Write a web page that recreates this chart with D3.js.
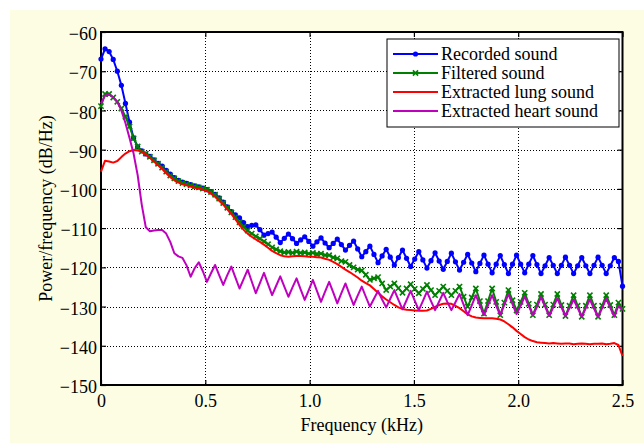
<!doctype html>
<html>
<head>
<meta charset="utf-8">
<script src="https://d3js.org/d3.v7.min.js"></script>
<style>
  body { margin: 0; background: #fff; }
  svg text { font-family: "Liberation Serif", "Times New Roman", Times, "DejaVu Serif", serif !important; fill: #000; }
</style>
</head>
<body>
<svg width="644" height="443"></svg>
<script>

// frequency bins (kHz), 129 bins from 0 to 2.5
var nBins = 129;
var freqs = d3.range(nBins).map(function(i) { return i * 2.5 / (nBins - 1); });

var recorded = [
  -66.9, -64.3, -65.0, -67.0, -70.0, -73.6, -78.2, -83.0, -87.0, -89.3,
  -90.3, -91.1, -91.7, -92.6, -93.5, -94.2, -95.3, -96.2, -97.1, -97.8,
  -98.3, -98.6, -98.9, -99.2, -99.5, -99.8, -100.2, -100.7, -101.4, -102.3,
  -103.4, -104.6, -105.8, -106.6, -107.4, -108.6, -109.6, -109.3, -109.2, -110.4,
  -111.8, -111.4, -111.0, -112.3, -113.7, -112.6, -111.5, -112.7, -113.9, -113.0,
  -112.2, -113.4, -114.6, -113.5, -112.5, -113.8, -115.0, -113.9, -112.8, -114.2,
  -115.6, -114.4, -113.3, -115.3, -117.3, -116.0, -114.6, -116.7, -118.8, -117.1,
  -115.4, -117.4, -119.4, -117.5, -115.6, -117.7, -119.8, -117.9, -116.0, -118.1,
  -120.2, -118.3, -116.3, -118.4, -120.5, -118.5, -116.4, -118.6, -120.7, -118.7,
  -116.7, -118.9, -121.1, -119.0, -116.9, -119.2, -121.4, -119.2, -117.0, -119.3,
  -121.6, -119.2, -116.9, -119.2, -121.4, -119.2, -117.0, -119.3, -121.6, -119.6,
  -117.5, -119.5, -121.6, -119.5, -117.4, -119.5, -121.6, -119.6, -117.5, -119.6,
  -121.6, -119.5, -117.4, -119.5, -121.6, -119.6, -117.5, -118.5, -124.8
];

var filtered = [
  -78.9, -75.8, -75.8, -76.7, -77.8, -79.5, -81.6, -84.1, -87.1, -89.2,
  -90.5, -91.0, -91.8, -92.7, -93.6, -94.6, -95.6, -96.6, -97.3, -98.0,
  -98.5, -98.8, -99.1, -99.4, -99.6, -99.9, -100.2, -100.8, -101.5, -102.5,
  -103.6, -104.8, -106.0, -107.2, -108.5, -109.6, -110.6, -111.4, -112.1, -112.7,
  -113.4, -114.1, -114.9, -115.4, -115.9, -116.2, -116.1, -116.3, -116.0, -116.3,
  -116.2, -116.5, -116.3, -116.6, -116.5, -116.9, -116.9, -117.5, -117.7, -118.4,
  -118.6, -119.4, -120.0, -120.6, -120.8, -121.9, -123.2, -122.8, -122.5, -124.1,
  -125.8, -124.9, -124.1, -125.3, -126.5, -125.4, -124.3, -125.5, -126.6, -125.5,
  -124.5, -125.8, -127.1, -126.0, -124.9, -126.0, -127.1, -126.0, -124.9, -127.5,
  -130.0, -127.7, -125.4, -128.6, -131.8, -128.6, -125.4, -128.8, -132.2, -129.0,
  -125.8, -128.4, -131.0, -128.8, -126.5, -129.3, -132.2, -129.5, -126.8, -129.5,
  -132.2, -129.5, -126.8, -129.6, -132.4, -129.8, -127.1, -129.8, -132.6, -129.8,
  -127.1, -129.8, -132.6, -129.8, -127.1, -129.6, -132.2, -129.0, -130.6
];

var lung = [
  -95.6, -92.8, -93.0, -93.3, -92.9, -91.9, -91.0, -90.4, -90.1, -90.2,
  -90.5, -91.2, -92.1, -93.0, -94.0, -94.9, -96.0, -97.0, -97.8, -98.4,
  -98.8, -99.1, -99.4, -99.7, -99.9, -100.2, -100.5, -101.2, -102.0, -103.0,
  -104.0, -105.2, -106.4, -107.8, -109.2, -110.4, -111.4, -112.2, -112.9, -113.5,
  -114.2, -115.0, -115.8, -116.4, -116.9, -117.2, -117.3, -117.2, -117.1, -117.1,
  -117.2, -117.3, -117.3, -117.4, -117.5, -117.8, -118.1, -118.6, -119.2, -119.9,
  -120.6, -121.2, -121.9, -122.6, -123.4, -124.0, -124.6, -125.5, -126.5, -127.4,
  -128.2, -128.9, -129.6, -130.2, -130.6, -130.8, -130.9, -131.0, -131.1, -131.1,
  -131.0, -130.6, -130.1, -129.6, -129.3, -129.2, -129.3, -129.8, -130.4, -131.2,
  -132.0, -132.5, -132.8, -132.9, -133.0, -133.0, -133.0, -133.1, -133.3, -133.8,
  -134.5, -135.3, -136.2, -137.0, -137.8, -138.4, -138.8, -139.1, -139.2, -139.3,
  -139.4, -139.3, -139.4, -139.5, -139.4, -139.4, -139.6, -139.5, -139.4, -139.5,
  -139.6, -139.5, -139.5, -139.4, -139.6, -139.5, -139.3, -139.8, -142.6
];

var heart = [
  -78.2, -76.2, -76.0, -76.6, -77.8, -80.0, -83.2, -87.0, -91.0, -96.5,
  -104.0, -109.8, -110.8, -110.6, -110.5, -110.5, -111.4, -113.5, -116.4, -117.2,
  -117.6, -119.5, -122.4, -120.2, -118.7, -121.0, -123.7, -121.5, -119.4, -122.0,
  -124.5, -122.0, -119.8, -122.6, -125.4, -123.0, -120.6, -123.6, -126.6, -124.0,
  -121.4, -124.3, -127.1, -124.7, -122.3, -124.9, -127.5, -125.1, -122.8, -125.6,
  -128.3, -125.8, -123.2, -126.0, -128.8, -126.2, -123.7, -126.4, -129.2, -126.6,
  -124.1, -126.9, -129.6, -127.2, -124.9, -127.5, -130.0, -128.0, -126.0, -128.2,
  -130.2, -128.0, -125.8, -128.3, -130.7, -128.4, -126.0, -128.5, -130.9, -128.6,
  -126.2, -128.6, -130.9, -128.7, -126.5, -128.8, -130.9, -128.9, -126.8, -129.5,
  -132.2, -129.7, -127.1, -129.7, -132.2, -129.7, -127.1, -129.8, -132.2, -129.5,
  -126.8, -129.4, -131.9, -129.8, -127.4, -129.9, -132.2, -130.1, -127.6, -130.0,
  -132.4, -130.2, -127.9, -130.2, -132.4, -130.4, -128.2, -130.4, -132.6, -130.4,
  -128.2, -130.5, -132.7, -130.4, -128.0, -130.3, -132.6, -129.8, -131.0
];

var xTicks = [0, 0.5, 1.0, 1.5, 2.0, 2.5];
var xTickLabels = ["0", "0.5", "1.0", "1.5", "2.0", "2.5"];
var yTicks = [-150, -140, -130, -120, -110, -100, -90, -80, -70, -60];

var seriesNames = ["Recorded sound", "Filtered sound", "Extracted lung sound", "Extracted heart sound"];
var seriesColors = ["#0000ff", "#008000", "#ff0000", "#bf00bf"];
var seriesMarkers = ["dot", "x", null, null];

var serif = "'Liberation Serif', 'Times New Roman', Times, 'DejaVu Serif', serif";

var svg = d3.select("svg");

// figure background
svg.append("rect")
   .attr("x", 10).attr("y", 10)
   .attr("width", 634).attr("height", 433)
   .attr("fill", "#fdfde4");

var pLeft = 101, pRight = 622.5, pTop = 32, pBottom = 385;

var x = d3.scaleLinear().domain([0, 2.5]).range([pLeft, pRight]);
var y = d3.scaleLinear().domain([-150, -60]).range([pBottom, pTop]);

svg.append("rect")
   .attr("x", pLeft).attr("y", pTop)
   .attr("width", pRight - pLeft).attr("height", pBottom - pTop)
   .attr("fill", "#fff");

// dotted grid
var grid = svg.append("g").attr("stroke", "#000").attr("stroke-width", 1).attr("stroke-dasharray", "1,2");
grid.selectAll(".gx").data(xTicks.slice(1, -1)).enter().append("line")
    .attr("x1", function(d) { return Math.round(x(d)) + 0.5; })
    .attr("x2", function(d) { return Math.round(x(d)) + 0.5; })
    .attr("y1", pTop).attr("y2", pBottom);
grid.selectAll(".gy").data(yTicks.slice(1, -1)).enter().append("line")
    .attr("y1", function(d) { return Math.round(y(d)) + 0.5; })
    .attr("y2", function(d) { return Math.round(y(d)) + 0.5; })
    .attr("x1", pLeft).attr("x2", pRight);

// axes (ticks inside, all four sides)
var minus = function(d) { return d < 0 ? "\u2212" + Math.abs(d) : String(d); };

var gx = svg.append("g").attr("transform", "translate(0," + pBottom + ")")
    .call(d3.axisBottom(x).tickValues(xTicks).tickSize(-5).tickSizeOuter(0).tickPadding(9)
          .tickFormat(function(d, i) { return xTickLabels[i]; }));
var gy = svg.append("g").attr("transform", "translate(" + pLeft + ",0)")
    .call(d3.axisLeft(y).tickValues(yTicks).tickSize(-5).tickSizeOuter(0).tickPadding(4)
          .tickFormat(minus));
var gt = svg.append("g").attr("transform", "translate(0," + pTop + ")")
    .call(d3.axisTop(x).tickValues(xTicks).tickSize(-5).tickSizeOuter(0).tickFormat(""));
var gr = svg.append("g").attr("transform", "translate(" + pRight + ",0)")
    .call(d3.axisRight(y).tickValues(yTicks).tickSize(-5).tickSizeOuter(0).tickFormat(""));

[gx, gy, gt, gr].forEach(function(g) {
    g.attr("font-family", serif).attr("font-size", 18);
    g.select(".domain").remove();
    g.selectAll(".tick line").attr("stroke", "#000").attr("stroke-width", 1.2);
    g.selectAll(".tick text").attr("font-size", 18).attr("font-family", serif);
});
gy.selectAll(".tick text").attr("dy", "0.42em");

svg.append("rect")
   .attr("x", pLeft).attr("y", pTop)
   .attr("width", pRight - pLeft).attr("height", pBottom - pTop)
   .attr("fill", "none").attr("stroke", "#000").attr("stroke-width", 2);

// axis titles
svg.append("text")
   .attr("x", (pLeft + pRight) / 2).attr("y", 431)
   .attr("text-anchor", "middle").attr("font-size", 18).attr("font-family", serif)
   .text("Frequency (kHz)");

svg.append("text")
   .attr("transform", "translate(52," + ((pTop + pBottom) / 2) + ") rotate(-90)")
   .attr("text-anchor", "middle").attr("font-size", 18).attr("font-family", serif)
   .text("Power/frequency (dB/Hz)");

// series
var allSeries = [recorded, filtered, lung, heart];

var line = d3.line()
    .x(function(d, i) { return x(freqs[i]); })
    .y(function(d) { return y(d); });

var plot = svg.append("g");

function drawMarker(g, kind, cx, cy, color) {
    if (kind === "dot") {
        g.append("circle").attr("cx", cx).attr("cy", cy).attr("r", 2.6).attr("fill", color);
    } else if (kind === "x") {
        var s = 2.6;
        g.append("path")
         .attr("d", "M" + (cx - s) + "," + (cy - s) + "L" + (cx + s) + "," + (cy + s) +
                    "M" + (cx - s) + "," + (cy + s) + "L" + (cx + s) + "," + (cy - s))
         .attr("stroke", color).attr("stroke-width", 1.6).attr("fill", "none");
    }
}

allSeries.forEach(function(vals, k) {
    plot.append("path")
        .datum(vals)
        .attr("d", line)
        .attr("fill", "none")
        .attr("stroke", seriesColors[k])
        .attr("stroke-width", 2)
        .attr("stroke-linejoin", "round");
    if (seriesMarkers[k]) {
        var mg = plot.append("g");
        vals.forEach(function(v, i) {
            drawMarker(mg, seriesMarkers[k], x(freqs[i]), y(v), seriesColors[k]);
        });
    }
});

// legend
var lg = svg.append("g");
lg.append("rect")
  .attr("x", 387).attr("y", 39).attr("width", 232).attr("height", 88)
  .attr("fill", "#fff").attr("stroke", "#000").attr("stroke-width", 1);

seriesNames.forEach(function(name, k) {
    var ry = 54 + k * 19;
    lg.append("line")
      .attr("x1", 393).attr("x2", 438).attr("y1", ry).attr("y2", ry)
      .attr("stroke", seriesColors[k]).attr("stroke-width", 2);
    if (seriesMarkers[k]) drawMarker(lg, seriesMarkers[k], 415.5, ry, seriesColors[k]);
    lg.append("text")
      .attr("x", 441).attr("y", ry).attr("dy", "0.35em")
      .attr("font-size", 18).attr("font-family", serif)
      .text(name);
});
</script>
</body>
</html>
